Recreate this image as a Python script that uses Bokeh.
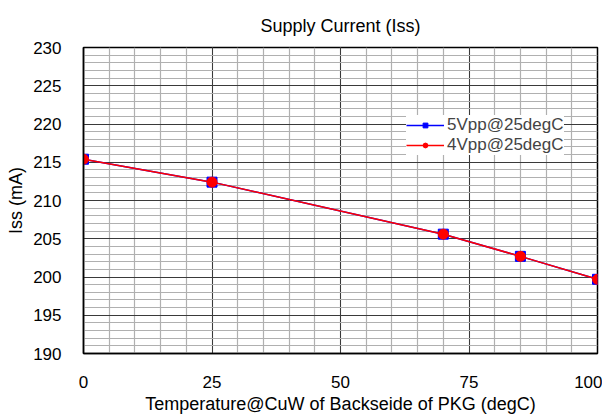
from bokeh.plotting import figure
from bokeh.models import Legend, LegendItem, FixedTicker
from bokeh.embed import file_html
from bokeh.resources import INLINE

temperature = [0, 25, 70, 85, 100]
iss_5vpp = [215.4, 212.4, 205.6, 202.7, 199.7]
iss_4vpp = [215.4, 212.4, 205.6, 202.7, 199.7]
x_ticks = [0, 25, 50, 75, 100]
y_ticks = [190, 195, 200, 205, 210, 215, 220, 225, 230]
title_text = "Supply Current (Iss)"

FONT = "Liberation Sans"
TICK_FS = "17px"
LABEL_FS = "18px"
FW, FH = 514, 306

p = figure(frame_width=FW, frame_height=FH, output_backend="svg", toolbar_location=None,
           x_range=(0, 100), y_range=(190, 230), title=title_text,
           min_border_left=83, min_border_right=5, min_border_top=47, min_border_bottom=55)
p.title.align = "center"
p.title.text_font = FONT
p.title.text_font_size = LABEL_FS
p.title.text_font_style = "normal"
p.title.text_color = "black"
p.title.standoff = 24

p.outline_line_color = "black"
p.outline_line_width = 1.5
p.background_fill_color = "white"
p.border_fill_color = "white"

p.xaxis.ticker = FixedTicker(ticks=x_ticks, minor_ticks=list(range(0, 101, 5)))
p.yaxis.ticker = FixedTicker(ticks=y_ticks, minor_ticks=list(range(190, 231, 1)))

for ax in (p.xaxis, p.yaxis):
    ax.major_tick_line_color = None
    ax.minor_tick_line_color = None
    ax.major_tick_out = 0
    ax.major_tick_in = 0
    ax.minor_tick_out = 0
    ax.axis_line_color = "black"
    ax.axis_line_width = 1.5
    ax.major_label_text_font = FONT
    ax.major_label_text_font_size = TICK_FS
    ax.major_label_text_color = "black"
    ax.axis_label_text_font = FONT
    ax.axis_label_text_font_size = LABEL_FS
    ax.axis_label_text_font_style = "normal"
    ax.axis_label_text_color = "black"

p.xaxis.axis_label = "Temperature@CuW of Backseide of PKG (degC)"
p.yaxis.axis_label = "Iss (mA)"
p.xaxis.major_label_standoff = 22
p.xaxis.axis_label_standoff = 3
p.yaxis.major_label_standoff = 22
p.yaxis.axis_label_standoff = 4

for g in (p.xgrid, p.ygrid):
    g.grid_line_color = "#3a3a3a"
    g.grid_line_width = 1
    g.minor_grid_line_color = "#b0b0b0"
    g.minor_grid_line_width = 1.2

l1 = p.line(temperature, iss_5vpp, line_color="blue", line_width=1.5)
s1 = p.scatter(temperature, iss_5vpp, marker="square", size=10, fill_color="blue", line_color="blue")
l2 = p.line(temperature, iss_4vpp, line_color="red", line_width=1.5)
s2 = p.scatter(temperature, iss_4vpp, marker="circle", size=10, fill_color="red", line_color="red")

legend = Legend(items=[LegendItem(label="5Vpp@25degC", renderers=[l1, s1]),
                       LegendItem(label="4Vpp@25degC", renderers=[l2, s2])],
                location=(323, 198), border_line_color=None,
                background_fill_color="white", background_fill_alpha=1.0,
                label_text_font=FONT, label_text_font_size=TICK_FS,
                glyph_width=38, glyph_height=12, label_height=12,
                spacing=0, padding=8, margin=0, label_standoff=3)
p.add_layout(legend)

open("out.html", "w").write(file_html(p, INLINE))
